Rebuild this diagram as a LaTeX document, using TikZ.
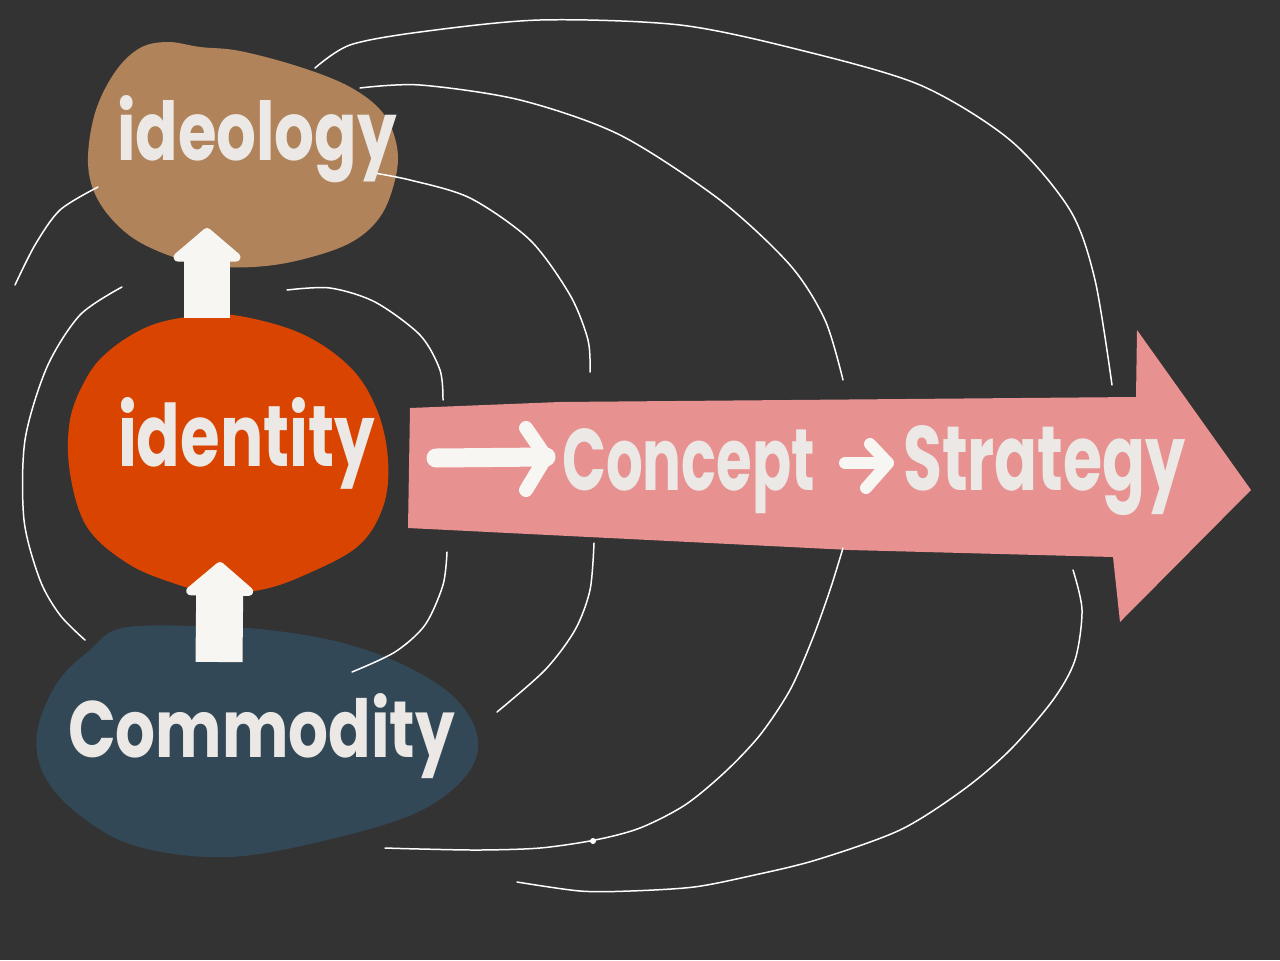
\documentclass[tikz,border=0pt]{standalone}
\usepackage{fontspec}
\setmainfont{Poppins}
\usepackage{graphicx}
\usetikzlibrary{arrows.meta}
\definecolor{bgc}{HTML}{333333}
\definecolor{ideoc}{HTML}{B0835A}
\definecolor{identc}{HTML}{D94500}
\definecolor{commc}{HTML}{324856}
\definecolor{pinkc}{HTML}{E79191}
\definecolor{txtc}{HTML}{EBE8E5}
\definecolor{arrc}{HTML}{F8F6F2}
\tikzset{
  curve/.style={draw=white, line width=0.85pt, line cap=round},
  word/.style={inner sep=0pt, outer sep=0pt, anchor=base west, text=txtc, font=\bfseries},
  uparrow/.style={draw=arrc, line width=0.94cm, -{Triangle[width=1.6cm,length=0.7cm,round]}},
  stroke/.style={draw=arrc, line cap=round, line join=round},
}
\begin{document}
\begin{tikzpicture}[x=0.02cm,y=-0.02cm]
\fill[bgc] (0,0) rectangle (1280,960);
\useasboundingbox (0,0) rectangle (1280,960);

% blobs
\fill[ideoc] plot[smooth cycle, tension=0.6] coordinates {(140,48) (168,42) (200,47) (240,51) (300,67) (350,87) (383,113) (397,147) (395,180) (380,217) (350,243) (300,260) (253,267) (205,265) (160,252) (125,232) (98,200) (88,163) (95,113) (115,72)};
\fill[identc] plot[smooth cycle, tension=0.6] coordinates {(187,317) (233,315) (300,333) (350,367) (377,410) (388,460) (383,507) (357,547) (300,577) (260,590) (217,594) (173,583) (127,563) (87,527) (70,473) (70,420) (87,377) (110,350) (147,327)};
\fill[commc] plot[smooth cycle, tension=0.6] coordinates {(122,628) (200,626) (269,630) (343,643) (408,667) (457,700) (478,740) (465,777) (416,813) (327,840) (229,857) (139,847) (82,817) (45,777) (37,733) (57,683) (90,650)};

% big pink arrow
\fill[pinkc] (410,408) -- (560,402) -- (1136,397) -- (1137,330) -- (1251,490) -- (1120,622) -- (1113,557) -- (850,550) -- (408,528) -- cycle;

% thin curves
\draw[curve] plot[smooth] coordinates {(98,187) (60,210) (35,245) (15,285)};
\draw[curve] plot[smooth] coordinates {(122,287) (80,315) (47,367) (25,440) (24,520) (40,580) (60,615) (85,640)};
\draw[curve] plot[smooth] coordinates {(287,290) (330,288) (375,302) (420,335) (440,370) (443,400)};
\draw[curve] plot[smooth] coordinates {(447,552) (443,585) (425,625) (395,652) (352,672)};
\draw[curve] plot[smooth] coordinates {(368,172) (410,180) (470,198) (530,240) (570,295) (588,340) (590,372)};
\draw[curve] plot[smooth] coordinates {(360,88) (420,85) (520,100) (620,135) (720,200) (790,265) (825,320) (843,380)};
\draw[curve] plot[smooth] coordinates {(315,68) (350,45) (420,32) (540,20) (680,25) (800,50) (920,85) (1010,140) (1070,210) (1095,280) (1112,385)};
\draw[curve] plot[smooth] coordinates {(594,543) (590,590) (575,630) (545,670) (497,712)};
\draw[curve] plot[smooth] coordinates {(843,548) (830,590) (812,640) (790,690) (760,735) (725,772) (685,805) (640,828) (595,840) (540,848) (480,850) (420,849) (385,848)};
\draw[curve] plot[smooth] coordinates {(1073,570) (1082,610) (1075,660) (1053,700) (1010,750) (963,790) (900,830) (816,860) (750,876) (694,887) (630,891) (580,891) (517,882)};
\fill[white] (593,841) circle (3);

% words
\node[word] (ideology) at (117,160) {\resizebox{5.6cm}{1.3cm}{ideology}};
\node[word] (identity) at (118,466) {\resizebox{5.14cm}{1.38cm}{identity}};
\node[word] (commodity) at (68,757) {\resizebox{7.74cm}{1.28cm}{Commodity}};
\node[word] (concept) at (562,490) {\resizebox{5.06cm}{1.24cm}{Concept}};
\node[word] (strategy) at (903,490) {\resizebox{5.66cm}{1.3cm}{Strategy}};

% up arrows
\coordinate (a1s) at (207,318);
\coordinate (a1e) at (207,228);
\coordinate (a2s) at (219,662);
\coordinate (a2e) at (220,562);
\draw[uparrow] (a1s) -- (a1e);
\draw[uparrow] (a2s) -- (a2e);

% arrow before Concept
\coordinate (c1s) at (436,458);
\coordinate (c1e) at (546,457);
\coordinate (c1t) at (526,428);
\coordinate (c1b) at (526,490);
\draw[stroke, line width=0.38cm] (c1s) -- (c1e);
\draw[stroke, line width=0.28cm] (c1t) -- (c1e) -- (c1b);

% arrow between Concept and Strategy
\coordinate (c2s) at (845,463);
\coordinate (c2e) at (888,463);
\coordinate (c2t) at (870,444);
\coordinate (c2b) at (866,488);
\draw[stroke, line width=0.24cm] (c2s) -- (c2e);
\draw[stroke, line width=0.24cm] (c2t) -- (c2e) -- (c2b);
\end{tikzpicture}
\end{document}
